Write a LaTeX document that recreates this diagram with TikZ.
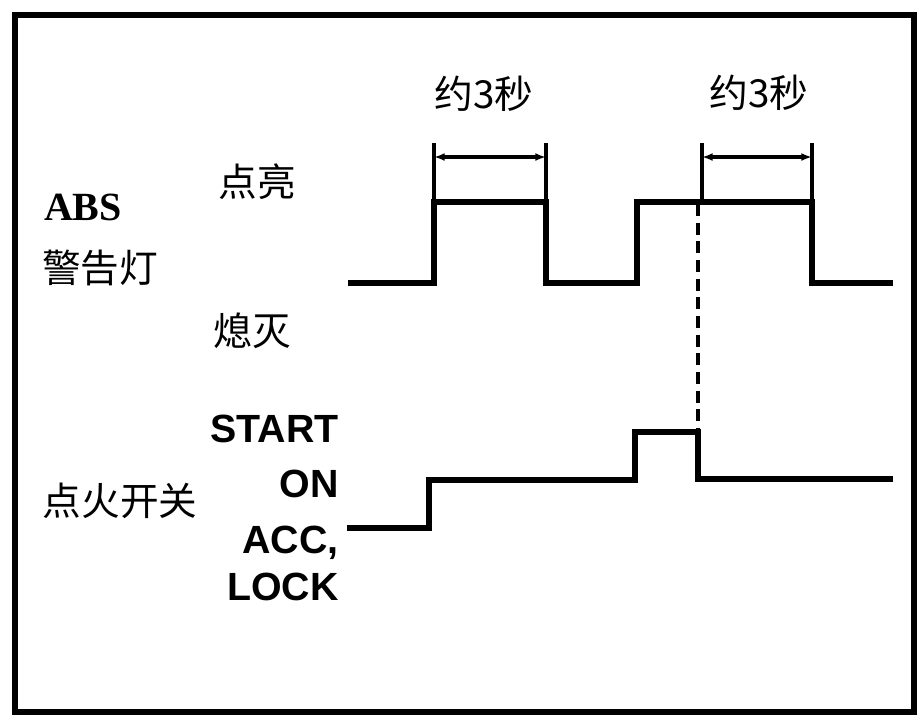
\documentclass[tikz,border=0pt]{standalone}
\usepackage{fontspec}
\setmainfont{Liberation Serif}
\setsansfont{Liberation Sans}
\newfontfamily\cjk{Noto Sans CJK SC}
\usetikzlibrary{arrows.meta}
\begin{document}
\begin{tikzpicture}[x=0.75pt,y=-0.75pt,
  wave/.style={line width=3.8pt,line join=miter,line cap=butt},
  tick/.style={line width=2.8pt},
  dimarrow/.style={line width=2.8pt,{Latex[length=8pt,width=6pt]}-{Latex[length=8pt,width=6pt]}},
  dashline/.style={line width=2.6pt,dash pattern=on 9pt off 5pt},
  cjklabel/.style={font=\cjk\fontsize{29}{34}\selectfont,inner sep=0pt},
  swlabel/.style={font=\sffamily\bfseries\fontsize{29.5}{34}\selectfont,inner sep=0pt,anchor=base east},
  frame/.style={line width=4.8pt}]
\useasboundingbox (0,0) rectangle (921,719);
\draw[frame] (15,15) rectangle (914,712);

% ABS warning lamp waveform
\coordinate (a0) at (348,283);
\coordinate (a1) at (434,283);
\coordinate (a2) at (434,202);
\coordinate (a3) at (546,202);
\coordinate (a4) at (546,283);
\coordinate (a5) at (637,283);
\coordinate (a6) at (637,202);
\coordinate (a7) at (812,202);
\coordinate (a8) at (812,283);
\coordinate (a9) at (893,283);
\draw[wave] (a0) -- (a1) -- (a2) -- (a3) -- (a4) -- (a5) -- (a6) -- (a7) -- (a8) -- (a9);

% ignition switch waveform
\coordinate (b0) at (347,528);
\coordinate (b1) at (429,528);
\coordinate (b2) at (429,480);
\coordinate (b3) at (635,480);
\coordinate (b4) at (635,432);
\coordinate (b5) at (698,432);
\coordinate (b6) at (698,479);
\coordinate (b7) at (893,479);
\draw[wave] (b0) -- (b1) -- (b2) -- (b3) -- (b4) -- (b5) -- (b6) -- (b7);

% dimension ticks and arrows
\coordinate (t1) at (434,143);
\coordinate (t2) at (546,143);
\coordinate (t3) at (702,143);
\coordinate (t4) at (812,143);
\coordinate (t3b) at (702,202);
\draw[tick] (t1) -- (a2);
\draw[tick] (t2) -- (a3);
\draw[tick] (t3) -- (t3b);
\draw[tick] (t4) -- (a7);
\coordinate (d1) at (434,157);
\coordinate (d2) at (546,157);
\coordinate (d3) at (702,157);
\coordinate (d4) at (812,157);
\draw[dimarrow] (d1) -- (d2);
\draw[dimarrow] (d3) -- (d4);

% dashed link
\coordinate (c1) at (698,204);
\draw[dashline] (c1) -- (b5);

% labels
\node[cjklabel] (sec1) at (484,94) {约3秒};
\node[cjklabel] (sec2) at (759,93) {约3秒};
\node[cjklabel] (on) at (257,182) {点亮};
\node[cjklabel] (off) at (252,331) {熄灭};
\node[font=\bfseries\fontsize{30}{34}\selectfont,inner sep=0pt] (abs) at (83,207) {ABS};
\node[cjklabel] (lamp) at (100,268) {警告灯};
\node[cjklabel] (ign) at (120,501) {点火开关};
\node[swlabel] (start) at (339,442) {START};
\node[swlabel] (onpos) at (339,497) {ON};
\node[swlabel] (acc) at (339,553) {ACC,};
\node[swlabel] (lock) at (339,600) {LOCK};
\end{tikzpicture}
\end{document}
